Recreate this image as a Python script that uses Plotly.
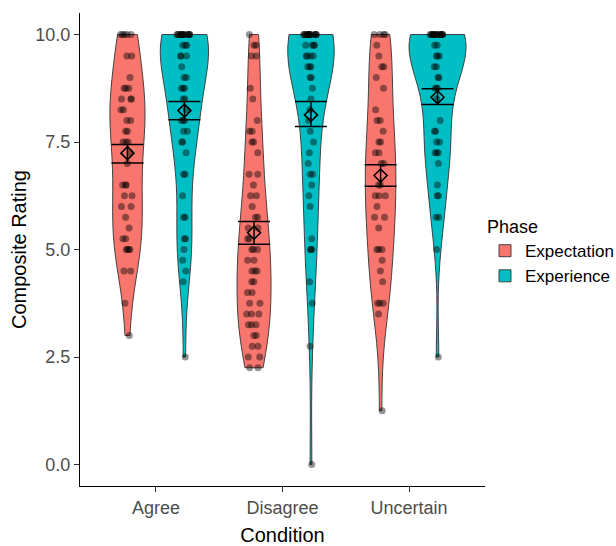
import numpy as np
import plotly.graph_objects as go

conditions = ["Agree", "Disagree", "Uncertain"]
phases = ["Expectation", "Experience"]

# Individual composite ratings
agree_expectation = [10.0, 10.0, 10.0, 10.0, 10.0, 9.5, 9.5, 9.0, 8.75, 8.75, 8.75,
                     8.5, 8.5, 8.5, 8.25, 8.25, 8.0, 8.0, 7.75, 7.75, 7.5, 7.5, 7.5,
                     7.25, 7.0, 6.5, 6.5, 6.5, 6.25, 6.25, 6.0, 6.0, 5.75, 5.5,
                     5.25, 5.25, 5.0, 5.0, 5.0, 5.0, 4.5, 4.5, 3.75, 3.0]
agree_experience = [10.0, 10.0, 10.0, 10.0, 10.0, 10.0, 10.0, 10.0, 10.0, 10.0, 10.0,
                    10.0, 10.0, 10.0, 9.75, 9.75, 9.75, 9.5, 9.5, 9.5, 9.25, 9.0, 9.0,
                    8.75, 8.75, 8.75, 8.5, 8.5, 8.25, 8.0, 8.0, 8.0, 7.75, 7.75, 7.5,
                    7.5, 7.25, 6.75, 6.75, 6.25, 5.75, 5.75, 5.25, 5.25, 5.0, 4.75,
                    4.5, 4.25, 2.5]
disagree_expectation = [10.0, 9.75, 9.75, 9.5, 9.5, 8.75, 8.5, 8.0, 7.75, 7.75, 7.5, 7.5,
                        7.25, 6.75, 6.75, 6.5, 6.25, 6.25, 6.0, 5.75, 5.75, 5.5, 5.5,
                        5.25, 5.25, 5.0, 5.0, 5.0, 4.75, 4.75, 4.5, 4.5, 4.5, 4.25, 4.25,
                        4.0, 4.0, 3.75, 3.75, 3.5, 3.5, 3.5, 3.25, 3.25, 3.25, 3.0, 3.0,
                        2.75, 2.75, 2.5, 2.5, 2.25, 2.25]
disagree_experience = [10.0, 10.0, 10.0, 10.0, 10.0, 10.0, 10.0, 10.0, 10.0, 10.0, 10.0,
                       10.0, 10.0, 10.0, 9.75, 9.75, 9.75, 9.75, 9.5, 9.5, 9.5, 9.5,
                       9.25, 9.25, 9.25, 9.0, 9.0, 8.75, 8.5, 8.25, 8.0, 7.75, 7.5, 7.25,
                       7.0, 6.75, 6.75, 6.5, 6.25, 6.0, 5.25, 5.0, 5.0, 5.0, 4.25, 3.75,
                       2.75, 0.0]
uncertain_expectation = [10.0, 10.0, 10.0, 10.0, 9.75, 9.5, 9.25, 9.25, 9.0, 8.75, 8.25,
                         8.0, 8.0, 7.75, 7.5, 7.5, 7.25, 7.25, 7.0, 7.0, 6.5, 6.5, 6.25,
                         6.25, 6.25, 6.0, 5.75, 5.75, 5.5, 5.0, 5.0, 5.0, 4.75, 4.5, 4.25,
                         3.75, 3.75, 3.75, 3.5, 1.25]
uncertain_experience = [10.0, 10.0, 10.0, 10.0, 10.0, 10.0, 10.0, 10.0, 10.0, 10.0, 10.0,
                        10.0, 10.0, 10.0, 10.0, 9.75, 9.75, 9.5, 9.5, 9.5, 9.25, 9.25,
                        9.0, 9.0, 8.75, 8.75, 8.75, 8.5, 8.0, 7.75, 7.75, 7.5, 7.5, 7.25,
                        7.25, 7.25, 7.0, 6.5, 6.25, 6.25, 5.75, 5.75, 5.0, 2.5]

# Means and interval bounds
mean_expectation = [7.24, 5.39, 6.72]
low_expectation = [7.01, 5.12, 6.47]
high_expectation = [7.44, 5.65, 6.97]
mean_experience = [8.23, 8.13, 8.54]
low_experience = [8.02, 7.86, 8.37]
high_experience = [8.44, 8.44, 8.74]

y_ticks = [0.0, 2.5, 5.0, 7.5, 10.0]

samples = {
    "Expectation": [agree_expectation, disagree_expectation, uncertain_expectation],
    "Experience": [agree_experience, disagree_experience, uncertain_experience],
}
summary = {
    "Expectation": (mean_expectation, low_expectation, high_expectation),
    "Experience": (mean_experience, low_experience, high_experience),
}
colors = {"Expectation": "#F8766D", "Experience": "#00BFC4"}
offsets = {"Expectation": -0.225, "Experience": 0.225}
MAX_WIDTH = 0.45
JITTER_UNITS = 0.06  # jitter half-range in category units

FONT = "Liberation Sans, Arial, sans-serif"


def nrd0(v):
    v = np.asarray(v, dtype=float)
    sd = v.std(ddof=1)
    q75, q25 = np.percentile(v, [75, 25])
    lo = min(sd, (q75 - q25) / 1.34)
    return 0.9 * lo * len(v) ** -0.2


def peak_density(v, bw):
    v = np.asarray(v, dtype=float)
    grid = np.linspace(v.min(), v.max(), 512)
    z = (grid[:, None] - v[None, :]) / bw
    dens = np.exp(-0.5 * z ** 2).sum(axis=1) / (len(v) * bw * np.sqrt(2 * np.pi))
    return dens.max()


# area scaling (like ggplot's scale="area"): width proportional to peak density
bws = {p: [nrd0(s) for s in samples[p]] for p in phases}
peaks = {p: [peak_density(s, b) for s, b in zip(samples[p], bws[p])] for p in phases}
global_peak = max(max(v) for v in peaks.values())

fig = go.Figure()
for phase in phases:
    for i, cond in enumerate(conditions):
        vals = samples[phase][i]
        w = MAX_WIDTH * peaks[phase][i] / global_peak
        fig.add_trace(go.Violin(
            y=vals,
            x0=i + offsets[phase],
            name=phase,
            legendgroup=phase,
            showlegend=(i == 0),
            width=w,
            scalemode="width",
            spanmode="hard",
            bandwidth=bws[phase][i],
            side="both",
            fillcolor=colors[phase],
            line=dict(color="#333333", width=0.9),
            opacity=1,
            points="all",
            pointpos=0,
            jitter=min(1.0, 2 * JITTER_UNITS / w),
            marker=dict(color="rgba(0,0,0,0.42)", size=7, line=dict(width=0)),
            box_visible=False,
            meanline_visible=False,
            hoverinfo="skip",
        ))

for phase in phases:
    m, lo, hi = summary[phase]
    xs = [i + offsets[phase] for i in range(len(conditions))]
    fig.add_trace(go.Scatter(
        x=xs, y=m, mode="markers", showlegend=False, hoverinfo="skip",
        marker=dict(symbol="diamond-open", size=10, color="black",
                    line=dict(width=1.6, color="black")),
        error_y=dict(type="data", symmetric=False,
                     array=[h - a for h, a in zip(hi, m)],
                     arrayminus=[a - l for a, l in zip(m, lo)],
                     color="black", thickness=1.5, width=16),
    ))

fig.update_layout(
    template="none",
    width=616, height=546,
    margin=dict(l=80, r=131, t=13, b=60, autoexpand=False),
    paper_bgcolor="white", plot_bgcolor="white",
    violinmode="overlay", violingap=0, violingroupgap=0,
    font=dict(family=FONT, size=18, color="black"),
    legend=dict(
        title=dict(text="Phase", font=dict(size=18, family=FONT, color="black")),
        font=dict(size=17, family=FONT, color="black"),
        x=1.0, xanchor="left", y=0.584, yanchor="top",
        itemwidth=30, tracegroupgap=0, bgcolor="rgba(0,0,0,0)",
    ),
    xaxis=dict(
        range=[-0.6, 2.6], tickvals=list(range(len(conditions))), ticktext=conditions,
        automargin=False,
        showgrid=False, zeroline=False, showline=True, linecolor="black", linewidth=1.3,
        ticks="outside", ticklen=5, tickcolor="#333333", tickwidth=1.1,
        tickfont=dict(size=18, family=FONT, color="#4D4D4D"),
        title=dict(text="Condition", font=dict(size=20, family=FONT, color="black"), standoff=11),
    ),
    yaxis=dict(
        range=[-0.5, 10.5], tickvals=y_ticks, tickformat=".1f",
        automargin=False,
        showgrid=False, zeroline=False, showline=True, linecolor="black", linewidth=1.3,
        ticks="outside", ticklen=5, tickcolor="#333333", tickwidth=1.1,
        tickfont=dict(size=18, family=FONT, color="#4D4D4D"),
        title=dict(text="Composite Rating", font=dict(size=20, family=FONT, color="black"), standoff=3),
    ),
)

fig.write_html("out.html", config={"displayModeBar": False},
               post_script="document.body.style.margin='0px';")
